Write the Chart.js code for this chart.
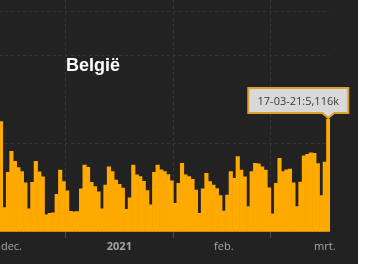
<!DOCTYPE html>
<html>
<head>
<meta charset="utf-8">
<script src="https://cdn.jsdelivr.net/npm/chart.js@4"></script>
<style>
  html, body { margin: 0; padding: 0; background: #fff; }
  #box { position: relative; width: 358px; height: 264px; background: #222222; overflow: hidden; }
  #chart { position: absolute; left: -1px; top: 0; }
</style>
</head>
<body>
<div id="box"><canvas id="chart" width="359" height="264"></canvas></div>
<script>
// daily new cases, 13-12-20 .. 17-03-21
const startDate = '2020-12-13';
const cases = [
  5000, 1100, 2700, 3650, 3200, 2920, 2740, 2220, 1050, 2250,
  3200, 2720, 2500, 780, 850, 870, 1700, 2800, 2280, 1860,
  940, 910, 920, 1950, 3030, 2930, 2250, 2050, 1820, 1050,
  2120, 2950, 2740, 2350, 2160, 1990, 1030, 1550, 3030, 2590,
  2510, 2290, 1870, 1230, 2700, 3030, 2810, 2740, 2600, 2320,
  1300, 2200, 3110, 2590, 2510, 2380, 1900, 850, 1950, 2650,
  2280, 2120, 1960, 1650, 950, 1670, 2730, 2430, 3410, 2800,
  2500, 1150, 2730, 3110, 3080, 2950, 2800, 2000, 820, 2200,
  3330, 2740, 2810, 2850, 2220, 1150, 2260, 3450, 3520, 3580,
  3560, 3100, 1650, 3170, 5116
];
const monthTicks = [3, 34, 64, 93];
const monthLabels = ['dec.', '2021', 'feb.', 'mrt.'];
const monthStarts = [19, 50, 78];
const gridValues = [0, 4000, 8000, 10000];
const title = 'België';

const pad = n => String(n).padStart(2, '0');
const dates = cases.map((_, i) => {
  const d = new Date(startDate + 'T12:00:00Z');
  d.setUTCDate(d.getUTCDate() + i);
  return pad(d.getUTCDate()) + '-' + pad(d.getUTCMonth() + 1) + '-' + String(d.getUTCFullYear()).slice(2);
});

const overlay = {
  id: 'overlay',
  afterDatasetsDraw(chart) {
    const ctx = chart.ctx;
    ctx.save();
    // title
    ctx.fillStyle = '#ffffff';
    ctx.font = 'bold 18px "Liberation Sans", Arial, sans-serif';
    ctx.textBaseline = 'alphabetic';
    ctx.fillText(title, 67, 71);

    // callout on the last bar
    const i = cases.length - 1;
    const bar = chart.getDatasetMeta(0).data[i];
    const px = bar.x, py = bar.y - 1;
    const text = dates[i] + ':' + (cases[i] / 1000).toFixed(3).replace('.', ',') + 'k';
    const w = 100, h = 25, left = px - 80, top = py - 5 - h;
    ctx.beginPath();
    ctx.moveTo(left, top);
    ctx.lineTo(left + w, top);
    ctx.lineTo(left + w, top + h);
    ctx.lineTo(px + 6, top + h);
    ctx.lineTo(px, py);
    ctx.lineTo(px - 6, top + h);
    ctx.lineTo(left, top + h);
    ctx.closePath();
    ctx.fillStyle = '#d9d9d9';
    ctx.fill();
    ctx.lineWidth = 2;
    ctx.strokeStyle = '#dca22c';
    ctx.stroke();
    ctx.fillStyle = '#3a3a3a';
    ctx.font = '11px "Open Sans", sans-serif';
    ctx.textAlign = 'center';
    ctx.textBaseline = 'middle';
    ctx.fillText(text, left + w / 2, top + h / 2 + 1);
    ctx.restore();
  }
};

new Chart(document.getElementById('chart'), {
  type: 'bar',
  data: {
    labels: dates,
    datasets: [{
      data: cases,
      backgroundColor: '#ffaa00',
      borderWidth: 0,
      barPercentage: 1,
      categoryPercentage: 1
    }]
  },
  options: {
    responsive: false,
    animation: false,
    layout: { padding: { left: 0, right: 28, top: 0, bottom: 0 } },
    plugins: { legend: { display: false }, tooltip: { enabled: false } },
    scales: {
      x: {
        grid: {
          offset: true,
          color: c => monthStarts.includes(c.index) ? '#383838' : 'transparent',
          tickColor: c => monthStarts.includes(c.index) ? '#4a4a4a' : 'transparent',
          tickLength: 6,
          tickBorderDash: []
        },
        border: { display: false, dash: [3, 3] },
        ticks: {
          autoSkip: false,
          maxRotation: 0,
          padding: 2,
          color: '#a6a6a6',
          font: c => ({ family: '"Open Sans", sans-serif', size: 11, weight: c.index === 34 ? 'bold' : 'normal' }),
          callback: (v, idx) => {
            const k = monthTicks.indexOf(idx);
            return k >= 0 ? monthLabels[k] : '';
          }
        },
        afterFit: s => { s.height = 32; }
      },
      y: {
        min: 0,
        max: 10500,
        afterBuildTicks: s => { s.ticks = gridValues.map(v => ({ value: v })); },
        grid: {
          color: c => c.tick && c.tick.value === 0 ? 'transparent' : '#333333',
          drawTicks: false
        },
        border: { display: false, dash: [3, 3] },
        ticks: { display: false },
        afterFit: s => { s.width = 0; }
      }
    }
  },
  plugins: [overlay]
});
</script>
</body>
</html>
